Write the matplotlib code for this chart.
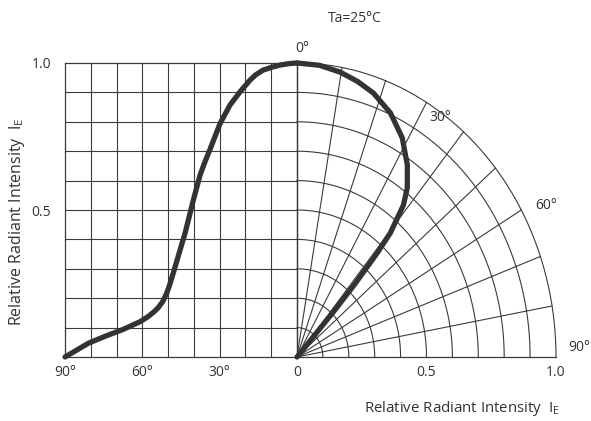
import matplotlib
matplotlib.use("Agg")
import matplotlib.pyplot as plt
import numpy as np

plt.rcParams['font.family'] = ['Open Sans', 'DejaVu Sans']
plt.rcParams['mathtext.fontset'] = 'custom'
plt.rcParams['mathtext.rm'] = 'Open Sans'

INK = '#333333'
GRID = '#3a3a3a'

# left half: intensity vs. off-axis angle, rectangular grid
left_deg = [0, 3, 6.6, 10, 13.1, 16, 18.2, 22.1, 26, 29.9, 33.8, 35.7,
            37.6, 40.2, 43.4, 46.0, 47.5, 49.3, 50.5, 52.0, 53.8, 55.7,
            58.0, 60.9, 67.4, 74, 80.9, 90]
left_int = [1.0, 0.998, 0.993, 0.985, 0.976, 0.96, 0.942, 0.902, 0.857,
            0.793, 0.705, 0.664, 0.619, 0.534, 0.422, 0.345, 0.300, 0.248,
            0.218, 0.190, 0.168, 0.152, 0.136, 0.120, 0.094, 0.072, 0.047,
            0.0]

# right half: same pattern on polar grid
pol_deg = [0, 5, 9.8, 14, 18.2, 23.5, 28.6, 33.1, 36.5, 38.5, 40.5, 41.2,
           42.0, 42.5, 43.0]
pol_r = [1.0, 0.996, 0.983, 0.966, 0.945, 0.905, 0.849, 0.780, 0.716,
         0.660, 0.555, 0.470, 0.333, 0.205, 0.0]

left_ticks = [90, 60, 30]
left_tick_labels = ['90°', '60°', '30°']
right_ticks = [0, 0.5, 1.0]
right_tick_labels = ['0', '0.5', '1.0']
y_ticks = [0.5, 1.0]
y_tick_labels = ['0.5', '1.0']
polar_labels = [('0°', 0.019, 1.05), ('30°', 0.554, 0.813),
                ('60°', 0.961, 0.517), ('90°', 1.089, 0.031)]
axis_title = r'Relative Radiant Intensity  I$_{\rm E}$'

W, H = 591, 421
fig = plt.figure(figsize=(W / 100, H / 100), dpi=100)

x0, xm, x1 = 65, 297, 556
ytop, ybot = 63, 357
axL = fig.add_axes([x0 / W, (H - ybot) / H, (xm - x0) / W, (ybot - ytop) / H])
axR = fig.add_axes([xm / W, (H - ybot) / H, (x1 - xm) / W, (ybot - ytop) / H])

# ---- left rectangular grid
axL.set_xlim(90, 0)
axL.set_ylim(0, 1)
for d in range(10, 90, 10):
    axL.axvline(d, color=GRID, lw=0.8, zorder=1)
for v in np.arange(0.1, 1.0, 0.1):
    axL.axhline(v, color=GRID, lw=0.8, zorder=1)
for s in axL.spines.values():
    s.set_color(GRID)
    s.set_linewidth(0.9)
axL.plot(left_deg, left_int, color=INK, lw=3.8, solid_capstyle='round',
         solid_joinstyle='round', zorder=3, clip_on=False)
axL.set_xticks(left_ticks)
axL.set_xticklabels(left_tick_labels)
axL.set_yticks(y_ticks)
axL.set_yticklabels(y_tick_labels)
axL.tick_params(length=0, labelsize=10, colors=INK, pad=6)
axL.tick_params(axis='y', pad=10)

# ---- right polar grid (circles in data units)
axR.set_xlim(0, 1)
axR.set_ylim(0, 1)
axR.patch.set_alpha(0)
for s in ['top', 'right']:
    axR.spines[s].set_visible(False)
for s in ['left', 'bottom']:
    axR.spines[s].set_color(GRID)
    axR.spines[s].set_linewidth(0.9)
th = np.radians(np.linspace(0, 90, 200))
for r in np.arange(0.1, 1.01, 0.1):
    axR.plot(r * np.sin(th), r * np.cos(th), color=GRID, lw=0.8,
             zorder=1, clip_on=False)
for d in range(10, 90, 10):
    a = np.radians(d)
    axR.plot([0, np.sin(a)], [0, np.cos(a)], color=GRID, lw=0.8,
             zorder=1, clip_on=False)
pa = np.radians(pol_deg)
pr = np.array(pol_r)
axR.plot(pr * np.sin(pa), pr * np.cos(pa), color=INK, lw=3.8,
         solid_capstyle='round', solid_joinstyle='round', zorder=3,
         clip_on=False)
for txt, u, v in polar_labels:
    axR.text(u, v, txt, fontsize=10, color=INK, ha='center', va='center')
axR.set_xticks(right_ticks)
axR.set_xticklabels(right_tick_labels)
axR.set_yticks([])
axR.tick_params(length=0, labelsize=10, colors=INK, pad=6)

fig.text(355 / W, 1 - 18 / H, 'Ta=25°C', fontsize=10, color=INK,
         ha='center', va='center')
fig.text(560 / W, 1 - 409 / H, axis_title, fontsize=10.8, color=INK,
         ha='right', va='center')
fig.text(17 / W, 1 - 222 / H, axis_title, fontsize=11.5, color=INK,
         ha='center', va='center', rotation=90)

fig.savefig('out.png', dpi=100)
